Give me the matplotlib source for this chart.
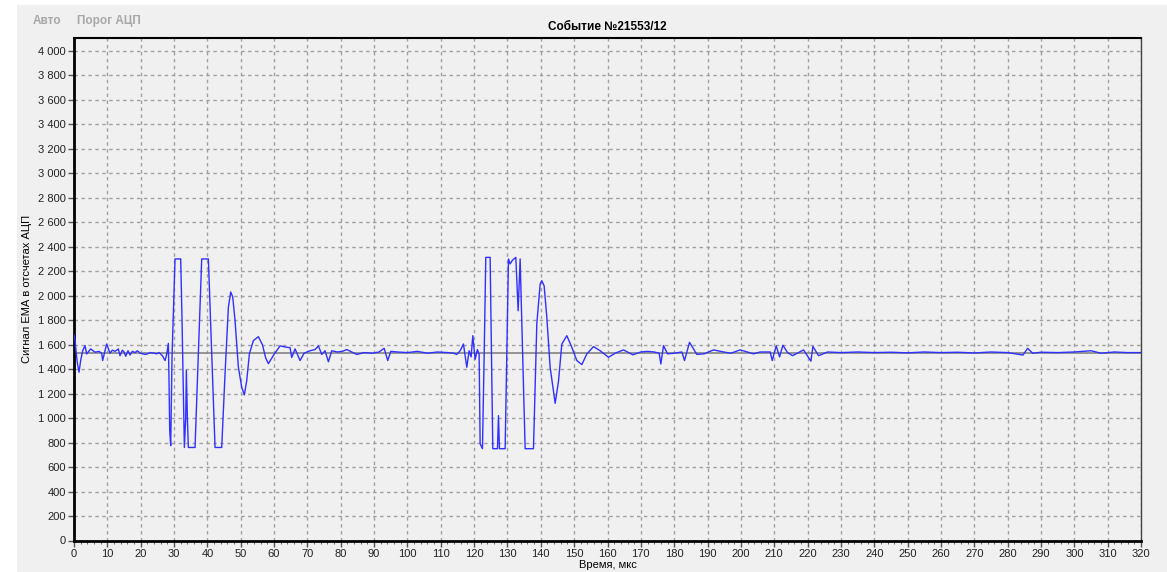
import matplotlib.pyplot as plt
from matplotlib.patches import Rectangle
from matplotlib.ticker import MultipleLocator, FuncFormatter

plt.rcParams['font.family'] = ['Liberation Sans', 'DejaVu Sans']

# signal, time (us) / ADC counts
t = [0, 0.3, 0.6, 1.0, 1.5, 2.0, 2.6, 3.3, 3.8, 5.0, 6.3, 7.5, 8.3, 8.6, 9.2, 9.8,
     10.8, 11.5, 12.3, 13.3, 13.8, 14.5, 15.0, 15.5, 16.2, 16.8, 17.5, 18.3, 19.0,
     20.0, 21.5, 23.0, 24.0, 24.8, 25.5, 26.5, 27.3, 27.8, 28.3, 28.5, 28.7, 29.0,
     29.4, 30.3, 32.0, 32.4, 33.1, 33.5, 33.7, 34.0, 34.3, 36.3, 38.3, 40.3,
     42.3, 44.3, 45.3, 46.3, 47.0, 47.6, 48.3, 49.3, 50.3, 51.1, 51.8, 52.6,
     53.8, 55.3, 56.5, 57.5, 58.3, 60.0, 61.8, 63.5, 64.8, 65.3, 66.3, 67.8,
     69.0, 70.8, 72.3, 73.3, 74.3, 75.3, 76.3, 77.3, 79.0, 80.5, 81.8, 83.3,
     84.8, 87.0, 89.5, 91.5, 93.0, 94.1, 95.0, 97.0, 100.0, 103.0, 106.0,
     109.0, 112.0, 113.8, 114.8, 115.8, 116.8, 117.8, 118.5, 119.1, 119.6,
     120.3, 121.0, 121.5, 121.8, 122.5, 123.0, 123.5, 124.8, 125.6, 127.0,
     127.3, 127.6, 129.3, 130.3, 130.8, 131.5, 132.5, 133.2, 133.8, 135.3,
     137.8, 138.8, 139.8, 140.3, 141.0, 141.8, 142.8, 144.3, 145.3, 146.3,
     147.8, 149.3, 150.8, 152.3, 153.8, 155.8, 157.8, 160.3, 162.3, 164.8,
     167.6, 170.0, 172.0, 174.0, 175.5, 176.0, 176.8, 178.0, 180.0, 182.3,
     183.1, 184.6, 186.8, 189.0, 191.8, 194.8, 197.0, 199.8, 203.8, 205.8,
     208.8, 209.4, 210.6, 211.6, 212.6, 214.0, 215.5, 218.8, 221.0, 221.6,
     223.3, 226.0, 230.0, 235.0, 240.0, 245.0, 250.0, 255.0, 260.0, 265.0,
     270.0, 275.0, 280.0, 284.6, 286.0, 287.5, 290.0, 295.0, 300.0, 305.0,
     308.0, 312.0, 316.0, 320.0]
v = [1680, 1640, 1550, 1450, 1375, 1470, 1550, 1592, 1524, 1565, 1538, 1545,
     1530, 1470, 1540, 1605, 1530, 1555, 1545, 1565, 1510, 1555, 1540, 1505,
     1550, 1515, 1545, 1535, 1550, 1528, 1520, 1535, 1530, 1525, 1535, 1510,
     1470, 1520, 1610, 1300, 900, 775, 1500, 2300, 2300, 1800, 760, 1000,
     1390, 1000, 760, 760, 2300, 2300, 760, 760, 1363, 1905, 2030, 1990,
     1796, 1415, 1251, 1190, 1306, 1525, 1633, 1665, 1600, 1490, 1445, 1520,
     1590, 1580, 1575, 1495, 1565, 1470, 1530, 1550, 1560, 1590, 1520, 1550,
     1460, 1550, 1540, 1545, 1560, 1540, 1520, 1535, 1530, 1540, 1570, 1470,
     1545, 1540, 1535, 1545, 1530, 1540, 1535, 1530, 1520, 1550, 1605, 1415,
     1550, 1500, 1673, 1480, 1560, 1520, 790, 750, 1500, 2313, 2313, 750,
     750, 1020, 750, 750, 2300, 2260, 2290, 2313, 1877, 2300, 750, 750, 1770,
     2095, 2122, 2080, 1823, 1415, 1121, 1300, 1605, 1673, 1578, 1470, 1437,
     1524, 1584, 1550, 1497, 1530, 1557, 1517, 1540, 1545, 1540, 1530, 1442,
     1592, 1525, 1530, 1540, 1470, 1619, 1520, 1525, 1557, 1540, 1530, 1557,
     1525, 1540, 1540, 1470, 1590, 1500, 1595, 1535, 1510, 1557, 1465, 1585,
     1510, 1540, 1535, 1540, 1535, 1538, 1533, 1540, 1535, 1538, 1532, 1540,
     1535, 1515, 1570, 1530, 1538, 1535, 1540, 1550, 1530, 1540, 1535, 1535]
threshold = 1530

fig = plt.figure(figsize=(11.67, 5.72), dpi=100, facecolor='white')
fig.patches.append(Rectangle((17 / 1167, 0), 1, 1 - 5 / 572, transform=fig.transFigure,
                             facecolor='#f0f0f0', edgecolor='none', zorder=-10))

ax = fig.add_axes([74 / 1167, 1 - 540.5 / 572, (1141 - 74) / 1167, (540.5 - 38) / 572])
ax.set_facecolor('#f0f0f0')

ax.axhline(threshold, color='#8c8c8c', lw=1.3, zorder=2)
ax.plot(t, v, color='#3030ff', lw=1.0, zorder=3)

ax.set_xlim(0, 320)
ax.set_ylim(0, 4105)
ax.xaxis.set_major_locator(MultipleLocator(10))
ax.xaxis.set_minor_locator(MultipleLocator(2))
ax.yaxis.set_major_locator(MultipleLocator(200))
ax.yaxis.set_major_formatter(FuncFormatter(lambda y, p: f'{int(y):,}'.replace(',', ' ')))
ax.grid(True, which='major', color='#a0a0a0', ls=(0, (2.5, 2.5)), lw=1)
ax.tick_params(axis='both', which='major', length=4, width=1, color='#555555',
               labelsize=8, labelcolor='#222222', pad=2)
ax.tick_params(axis='x', which='minor', length=2, color='#555555')

for s in ['left', 'bottom']:
    ax.spines[s].set_linewidth(2)
    ax.spines[s].set_color('black')
ax.spines['top'].set_linewidth(1.5)
ax.spines['right'].set_linewidth(1)
ax.spines['right'].set_color('#444444')

ax.set_title('Событие №21553/12', fontsize=8.5, fontweight='bold', pad=6)
ax.set_ylabel('Сигнал ЕМА в отсчетах АЦП', fontsize=8, labelpad=4)
ax.set_xlabel('Время, мкс', fontsize=8, labelpad=1)

fig.text(33 / 1167, 1 - 21 / 572, 'Авто', color='#a8a8a8', fontsize=8.5,
         fontweight='bold', va='center')
fig.text(77 / 1167, 1 - 21 / 572, 'Порог АЦП', color='#a8a8a8', fontsize=8.5,
         fontweight='bold', va='center')

fig.savefig('out.png', dpi=100, facecolor=fig.get_facecolor())
